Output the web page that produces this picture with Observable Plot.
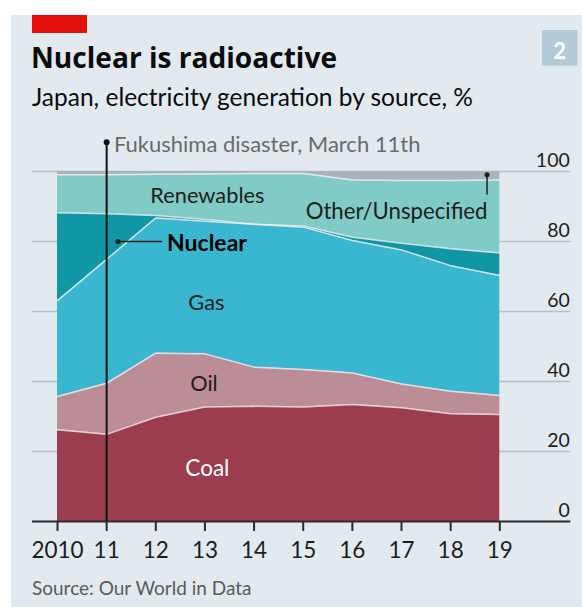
<!DOCTYPE html>
<html>
<head>
<meta charset="utf-8">
<script src="https://cdn.jsdelivr.net/npm/d3@7"></script>
<script src="https://cdn.jsdelivr.net/npm/@observablehq/plot@0.6"></script>
<style>
  html, body { margin: 0; padding: 0; background: #ffffff; }
  #wrap { position: relative; width: 582px; height: 609px; overflow: hidden; font-family: Lato, "Open Sans", sans-serif; }
  #panel { position: absolute; left: 11px; top: 15px; width: 571px; height: 592px; background: #e2eaf0; }
  #header { position: absolute; left: 0; top: 0; }
  #chart { position: absolute; left: 0; top: 120px; }
</style>
</head>
<body>
<div id="wrap">
  <div id="panel"></div>
  <div id="chart"></div>
  <svg id="header" width="582" height="609"></svg>
</div>
<script>
// ---- data (shares of electricity generation, %) ----
const years = [2010, 2011, 2012, 2013, 2014, 2015, 2016, 2017, 2018, 2019];
const coal = [26.2, 24.9, 29.8, 32.7, 32.9, 32.7, 33.4, 32.5, 30.8, 30.6];
const oil = [9.5, 14.6, 18.3, 15.2, 11.2, 10.7, 9.0, 6.8, 6.4, 5.4];
const gas = [27.4, 35.4, 38.6, 37.9, 40.8, 40.7, 37.9, 38.3, 35.9, 34.3];
const nuclear = [25.1, 13.0, 0.7, 0.5, 0.0, 0.3, 0.9, 1.9, 4.8, 6.4];
const renewables = [10.9, 11.2, 11.8, 13.0, 14.5, 15.0, 16.4, 17.9, 19.5, 20.9];
const other = [0.9, 0.9, 0.8, 0.7, 0.6, 0.6, 2.4, 2.6, 2.6, 2.4];

const sources = ["Coal", "Oil", "Gas", "Nuclear", "Renewables", "Other"];
const colors = ["#9b3d4e", "#bb8e97", "#39b7d1", "#0f97a5", "#80cbc6", "#a8b3bc"];
const yTicks = [0, 20, 40, 60, 80, 100];
const xTickLabels = ["2010", "11", "12", "13", "14", "15", "16", "17", "18", "19"];
const fukushimaYear = 2011;
const fukushimaLabel = "Fukushima disaster, March 11th";

// area labels (year, value)
const areaLabels = [
  {text: "Renewables", x: 2013.05, y: 90.9},
  {text: "Gas", x: 2013.03, y: 60.5},
  {text: "Oil", x: 2012.98, y: 37.2}
];
const coalLabel = [{text: "Coal", x: 2013.05, y: 12.9}];
const nuclearLabel = [{text: "Nuclear", x: 2012.23, y: 77.2}];
const nuclearLeader = [{x1: 2011.23, y1: 80.0, x2: 2012.13, y2: 80.0}];
const otherLabel = [{text: "Other/Unspecified", x: 2018.75, y: 86.5}];
const otherLeader = [{x1: 2018.74, y1: 99.1, x2: 2018.74, y2: 93.4}];

const series = [coal, oil, gas, nuclear, renewables, other];
const table = [];
sources.forEach((s, k) => years.forEach((yr, i) => table.push({source: s, year: yr, value: series[k][i]})));
const labelOf = new Map(years.map((y, i) => [y, xTickLabels[i]]));

const ink = "#1d1d1d";
const chart = Plot.plot({
  width: 582,
  height: 489,
  marginLeft: 57,
  marginRight: 82.7,
  marginTop: 51,
  marginBottom: 88,
  x: {domain: [2010, 2019]},
  y: {domain: [0, 100]},
  color: {domain: sources, range: colors},
  style: {background: "transparent", fontFamily: "Lato, 'Open Sans', sans-serif", overflow: "visible", color: ink},
  marks: [
    Plot.ruleY(yTicks.filter(d => d > 0), {stroke: "#b7c0c7", strokeWidth: 1.3, insetLeft: -25, insetRight: -71}),
    Plot.areaY(table, {x: "year", y: "value", fill: "source", order: sources, curve: "linear"}),
    Plot.lineY(table, Plot.stackY2({x: "year", y: "value", z: "source", order: sources, filter: d => d.source !== "Other", stroke: "#f6eef0", strokeOpacity: 0.8, strokeWidth: 1.5})),
    Plot.ruleY([0], {stroke: "#2b2b2b", strokeWidth: 2.2, insetLeft: -25, insetRight: -71}),
    Plot.axisX({ticks: years, tickSize: 10, tickPadding: 11, stroke: "#2b2b2b", strokeWidth: 2, fontSize: 22.5, fill: ink, tickFormat: d => labelOf.get(d)}),
    Plot.axisY({ticks: yTicks, anchor: "right", tickSize: 0, tickPadding: 0, textAnchor: "end", lineAnchor: "bottom", dx: 70, dy: -5, fontSize: 19.5, fill: ink}),
    Plot.ruleX([fukushimaYear], {stroke: "#111", strokeWidth: 2, insetTop: -29.3}),
    Plot.dot([fukushimaYear], {x: d => d, frameAnchor: "top", dy: -29.3, r: 3, fill: "#111", stroke: null}),
    Plot.text([fukushimaLabel], {x: () => fukushimaYear, text: d => d, frameAnchor: "top", textAnchor: "start", lineAnchor: "bottom", dx: 7.3, dy: -19.3, fontSize: 22, fill: "#6a6a6a"}),
    Plot.text(areaLabels, {x: "x", y: "y", text: "text", textAnchor: "middle", lineAnchor: "bottom", fontSize: 21.8, fill: ink}),
    Plot.text(coalLabel, {x: "x", y: "y", text: "text", textAnchor: "middle", lineAnchor: "bottom", fontSize: 22.5, fill: "#ffffff"}),
    Plot.link(nuclearLeader, {x1: "x1", y1: "y1", x2: "x2", y2: "y2", stroke: ink, strokeWidth: 1.5}),
    Plot.dot(nuclearLeader, {x: "x1", y: "y1", r: 2.5, fill: ink, stroke: null}),
    Plot.text(nuclearLabel, {x: "x", y: "y", text: "text", textAnchor: "start", lineAnchor: "bottom", fontSize: 23, fontWeight: "bold", fill: "#000"}),
    Plot.link(otherLeader, {x1: "x1", y1: "y1", x2: "x2", y2: "y2", stroke: ink, strokeWidth: 1.5}),
    Plot.dot(otherLeader, {x: "x1", y: "y1", r: 2.5, fill: ink, stroke: null}),
    Plot.text(otherLabel, {x: "x", y: "y", text: "text", textAnchor: "end", lineAnchor: "bottom", fontSize: 22.2, fill: ink})
  ]
});
document.getElementById("chart").appendChild(chart);

// header, number box and source
const svg = d3.select("#header");
svg.append("rect").attr("x", 32).attr("y", 15).attr("width", 55).attr("height", 18).attr("fill", "#e3120b");
svg.append("text").attr("x", 31).attr("y", 68.3)
  .attr("font-family", "'Open Sans', Lato, sans-serif").attr("font-weight", 700).attr("font-size", 28.1).attr("fill", "#0b0b0b")
  .text("Nuclear is radioactive");
svg.append("text").attr("x", 32).attr("y", 106)
  .attr("font-family", "Lato, 'Open Sans', sans-serif").attr("font-size", 24.5).attr("fill", "#0b0b0b")
  .text("Japan, electricity generation by source, %");
svg.append("rect").attr("x", 542).attr("y", 30).attr("width", 35.5).attr("height", 35.7).attr("fill", "#b5cad8");
svg.append("text").attr("x", 559.7).attr("y", 59.3).attr("text-anchor", "middle")
  .attr("font-family", "Lato, 'Open Sans', sans-serif").attr("font-weight", 700).attr("font-size", 22).attr("fill", "#ffffff")
  .text("2");
svg.append("text").attr("x", 32).attr("y", 595)
  .attr("font-family", "Lato, 'Open Sans', sans-serif").attr("font-size", 19).attr("fill", "#5a5a5a")
  .text("Source: Our World in Data");
</script>
</body>
</html>
